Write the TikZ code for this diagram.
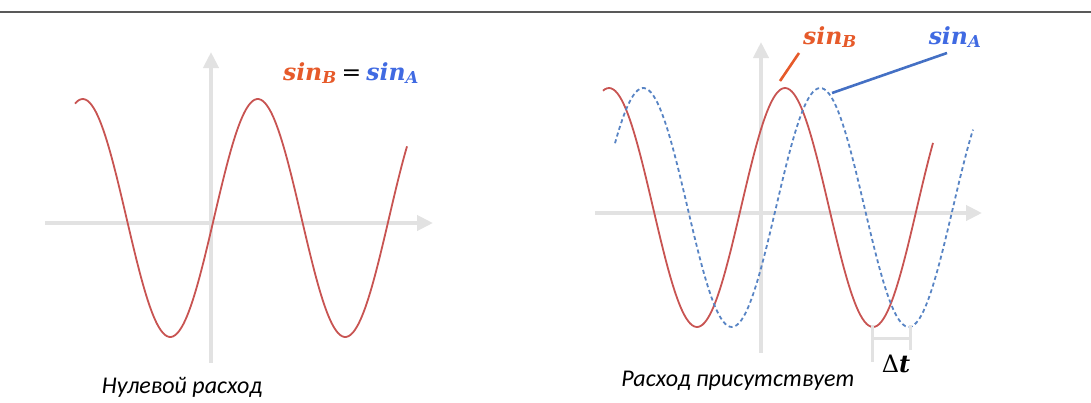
\documentclass[tikz,border=0pt]{standalone}
\usepackage{fontspec}
\setmainfont{Carlito}
\newfontfamily\lblfont{DejaVu Serif}
\usetikzlibrary{arrows.meta}

% colours of the two signals
\definecolor{sigBline}{RGB}{200,84,82}
\definecolor{sigAline}{RGB}{88,132,196}
\definecolor{sigBtext}{RGB}{230,90,42}
\definecolor{sigAtext}{RGB}{64,106,226}
\definecolor{leadA}{RGB}{68,112,196}
\definecolor{axisgray}{RGB}{226,226,226}

\newcommand{\sinlbl}[1]{{\lblfont\bfseries\itshape sin\textsubscript{#1}}}

\tikzset{
  axisline/.style={draw=axisgray, line width=4pt, -{Triangle[length=16pt,width=15pt]}},
  sigB/.style={draw=sigBline, line width=1.8pt, line join=round},
  sigA/.style={draw=sigAline, line width=1.8pt, dash pattern=on 4pt off 3pt},
  lead/.style={line width=2.6pt},
  mathlbl/.style={inner sep=0pt, font=\fontsize{23.5}{28}\selectfont},
  caption/.style={inner sep=0pt, font=\fontsize{24}{28}\selectfont\itshape},
  bracket/.style={draw=axisgray, line width=3pt}
}

\begin{document}
\begin{tikzpicture}[x=1pt, y=-1pt]
% one unit = one pixel of the 1091x402 sheet, measured from the top left
\useasboundingbox (0,0) rectangle (1091,402);
\draw[line width=1.5pt, draw=black!65] (0,12) -- (1091,12);

% --- left panel: no phase shift
\begin{scope}
  % axes
  \draw[axisline] (45,223) -- (433,223);
  \draw[axisline] (211,363) -- (211,52);
  % the two sines lie on top of each other
  \draw[sigB] plot[domain=75:407, samples=160, smooth] (\x, {218 - 119*sin((360/175)*(\x-214))});
  \node[mathlbl] (eqlbl) at (351,73) {\color{sigBtext}\sinlbl{B}\hspace{5pt}\color{black}{\lblfont=}\hspace{5pt}\color{sigAtext}\sinlbl{A}};
  \node[caption] (capzero) at (182,387) {Нулевой расход};
\end{scope}

% --- right panel: phase shift present
\begin{scope}
  % axes
  \draw[axisline] (595,213) -- (982,213);
  \draw[axisline] (761,353) -- (761,42);
  % sine B (solid) and sine A (dashed, lagging)
  \draw[sigB] plot[domain=603:933, samples=160, smooth] (\x, {207.5 - 119.5*sin((360/176)*(\x-741))});
  \draw[sigA] plot[domain=615:973, samples=160, smooth] (\x, {207.5 - 119.5*sin((360/177)*(\x-776))});
  % labels with leader lines
  \node[mathlbl] (lblB) at (830,37) {\color{sigBtext}\sinlbl{B}};
  \node[mathlbl] (lblA) at (955,37) {\color{sigAtext}\sinlbl{A}};
  \coordinate (peakB) at (780,81);
  \coordinate (leadBtop) at (799,53);
  \coordinate (peakA) at (832,93);
  \coordinate (leadAtop) at (947,53);
  \draw[lead, draw=sigBtext] (peakB) -- (leadBtop);
  \draw[lead, draw=leadA] (peakA) -- (leadAtop);
  % delta t between the two minima
  \draw[bracket] (872,325) -- (872,362);
  \draw[bracket] (910,325) -- (910,350);
  \draw[bracket] (872,338) -- (910,338);
  \node[inner sep=0pt, font=\fontsize{24}{28}\selectfont] (dtlbl) at (896,364) {\lblfont Δ\textbf{\textit{t}}};
  \node[caption] (capshift) at (738,381) {Расход присутствует};
\end{scope}
\end{tikzpicture}
\end{document}
